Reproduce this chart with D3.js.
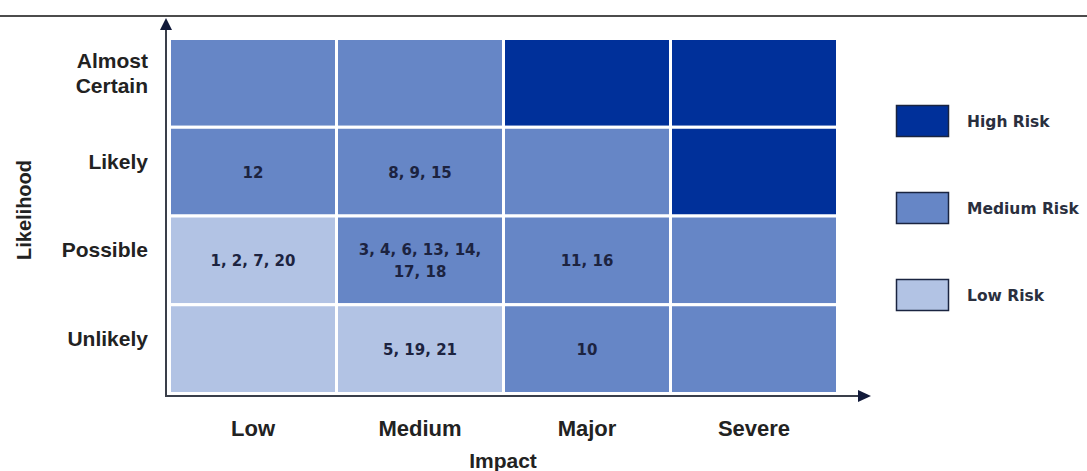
<!DOCTYPE html>
<html>
<head>
<meta charset="utf-8">
<script src="https://cdn.jsdelivr.net/npm/d3@7"></script>
<style>
  body { margin: 0; background: #fff; }
  svg { display: block; }
</style>
</head>
<body>
<svg id="chart" width="1087" height="471"></svg>
<script>
// impact across, likelihood down (top row first)
var impacts = ["Low", "Medium", "Major", "Severe"];
var likelihoods = ["Almost Certain", "Likely", "Possible", "Unlikely"];

// risk level for each cell, row by row
var levels = [
    ["Medium", "Medium", "High", "High"],
    ["Medium", "Medium", "Medium", "High"],
    ["Low", "Medium", "Medium", "Medium"],
    ["Low", "Low", "Medium", "Medium"]
];

// risk ids sitting in each cell ("|" = line break)
var ids = [
    ["", "", "", ""],
    ["12", "8, 9, 15", "", ""],
    ["1, 2, 7, 20", "3, 4, 6, 13, 14,|17, 18", "11, 16", ""],
    ["", "5, 19, 21", "10", ""]
];

var legendLabels = ["High Risk", "Medium Risk", "Low Risk"];
var legendKeys = ["High", "Medium", "Low"];

var colors = { High: "#00309a", Medium: "#6686c6", Low: "#b2c3e4" };

var svg = d3.select("#chart");
var labelFont = "'Liberation Sans', Arial, sans-serif";
var cellFont = "'DejaVu Sans', Verdana, sans-serif";

var x = d3.scaleBand().domain(impacts).range([169.5, 837.5]);
var y = d3.scaleBand().domain(likelihoods).range([38.5, 393.5]);

// top rule
svg.append("line")
    .attr("x1", 0).attr("x2", 1087)
    .attr("y1", 16).attr("y2", 16)
    .attr("stroke", "#111").attr("stroke-width", 1.5);

var cells = [];
levels.forEach(function(row, i) {
    row.forEach(function(lv, j) {
        cells.push({ row: likelihoods[i], col: impacts[j], level: lv, text: ids[i][j] });
    });
});

var cell = svg.selectAll("g.cell")
    .data(cells)
    .enter().append("g")
    .attr("class", "cell");

cell.append("rect")
    .attr("x", d => x(d.col))
    .attr("y", d => y(d.row))
    .attr("width", x.bandwidth())
    .attr("height", y.bandwidth())
    .attr("fill", d => colors[d.level])
    .attr("stroke", "#fff")
    .attr("stroke-width", 3);

cell.each(function(d) {
    if (!d.text) return;
    var lines = d.text.split("|");
    var cx = x(d.col) + x.bandwidth() / 2;
    var cy = y(d.row) + y.bandwidth() / 2;
    var t = d3.select(this).append("text")
        .attr("text-anchor", "middle")
        .attr("font-family", cellFont)
        .attr("font-weight", "bold")
        .attr("font-size", 15)
        .attr("fill", "#1c2340");
    lines.forEach(function(l, k) {
        t.append("tspan")
            .attr("x", cx)
            .attr("y", cy + 6 + (k - (lines.length - 1) / 2) * 22)
            .text(l);
    });
});

// axes with arrow heads
svg.append("line")
    .attr("x1", 166).attr("x2", 166)
    .attr("y1", 397).attr("y2", 26)
    .attr("stroke", "#3a3f4a").attr("stroke-width", 2);
svg.append("path")
    .attr("d", "M166,18 L160,30 L172,30 Z")
    .attr("fill", "#121a3a");
svg.append("line")
    .attr("x1", 165).attr("x2", 862)
    .attr("y1", 396).attr("y2", 396)
    .attr("stroke", "#3a3f4a").attr("stroke-width", 2);
svg.append("path")
    .attr("d", "M871,396 L858,390 L858,402 Z")
    .attr("fill", "#121a3a");

// row labels
svg.selectAll("text.rowlab")
    .data(likelihoods)
    .enter().append("text")
    .attr("class", "rowlab")
    .attr("text-anchor", "end")
    .attr("font-family", labelFont)
    .attr("font-weight", "bold")
    .attr("font-size", 21)
    .attr("fill", "#222")
    .each(function(d) {
        var words = d.split(" ");
        var cy = y(d) + y.bandwidth() / 2;
        var t = d3.select(this);
        if (words.length > 1) {
            words.forEach(function(w, k) {
                t.append("tspan").attr("x", 148).attr("y", cy - 15 + k * 25).text(w);
            });
        } else {
            t.append("tspan").attr("x", 148).attr("y", cy - 3).text(d);
        }
    });

// column labels
svg.selectAll("text.collab")
    .data(impacts)
    .enter().append("text")
    .attr("class", "collab")
    .attr("text-anchor", "middle")
    .attr("font-family", labelFont)
    .attr("font-weight", "bold")
    .attr("font-size", 22)
    .attr("fill", "#222")
    .attr("x", d => x(d) + x.bandwidth() / 2)
    .attr("y", 436)
    .text(d => d);

svg.append("text")
    .attr("text-anchor", "middle")
    .attr("font-family", labelFont)
    .attr("font-weight", "bold")
    .attr("font-size", 21)
    .attr("fill", "#222")
    .attr("x", 503)
    .attr("y", 468)
    .text("Impact");

svg.append("text")
    .attr("text-anchor", "middle")
    .attr("font-family", labelFont)
    .attr("font-weight", "bold")
    .attr("font-size", 20)
    .attr("fill", "#222")
    .attr("transform", "translate(31,210) rotate(-90)")
    .text("Likelihood");

// legend
var ly = d3.scalePoint().domain(legendLabels).range([121, 295]);
var leg = svg.selectAll("g.legend")
    .data(legendLabels)
    .enter().append("g")
    .attr("class", "legend")
    .attr("transform", d => "translate(0," + ly(d) + ")");

leg.append("rect")
    .attr("x", 896.5).attr("y", -15.5)
    .attr("width", 52).attr("height", 31)
    .attr("fill", (d, i) => colors[legendKeys[i]])
    .attr("stroke", "#1a2440").attr("stroke-width", 1.5);

leg.append("text")
    .attr("x", 967).attr("y", 5.5)
    .attr("font-family", cellFont)
    .attr("font-weight", "bold")
    .attr("font-size", 15.5)
    .attr("fill", "#2a2f3e")
    .text(d => d);
</script>
</body>
</html>
